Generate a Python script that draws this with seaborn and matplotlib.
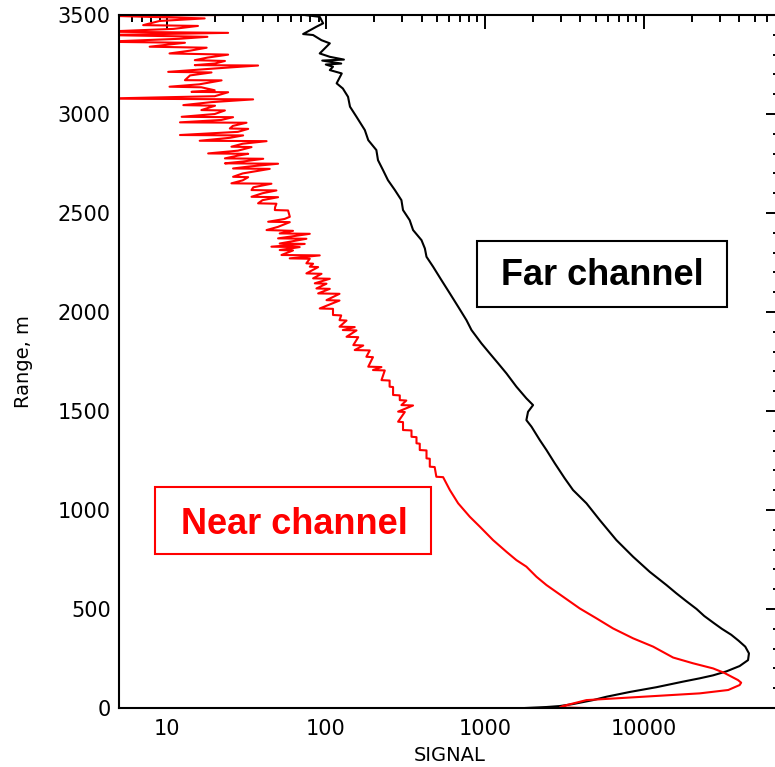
import matplotlib
matplotlib.use('Agg')
import numpy as np
import matplotlib.pyplot as plt
import seaborn as sns
from matplotlib.patches import Rectangle
from matplotlib.ticker import LogLocator, MultipleLocator, NullFormatter

# Far channel profile (range in m, signal)
far_range = [0, 5, 10, 20, 40, 57, 81, 105, 133, 150, 165, 185, 212, 242, 276,
             310, 340, 370, 400, 430, 465, 500, 540, 580, 621, 688, 764, 848,
             949, 1034, 1101, 1160, 1236, 1303, 1353, 1421, 1454, 1496, 1530,
             1564, 1623, 1690, 1741, 1791, 1842, 1909, 1959, 2027, 2094, 2161,
             2229, 2279, 2321, 2363, 2414, 2464, 2515, 2565, 2616, 2666, 2717,
             2767, 2818, 2868, 2919, 2986, 3037, 3087, 3129, 3155, 3205, 3222,
             3239, 3250, 3255, 3270, 3275, 3289, 3306, 3357, 3373, 3399, 3404,
             3441, 3458, 3491, 3500]
far_signal = [1785, 2440, 2965, 3590, 4800, 5830, 8160, 12000, 17600, 22500,
              27300, 33100, 40100, 45300, 45900, 43500, 39500, 35500, 31000,
              27500, 24000, 21500, 18500, 16000, 13900, 10900, 8570, 6730,
              5290, 4360, 3590, 3184, 2757, 2444, 2220, 1967, 1827, 1871, 2013,
              1827, 1581, 1369, 1213, 1075, 952, 825, 767, 680, 603, 534,
              473, 430, 420, 400, 354, 337, 306, 299, 272, 246, 229,
              213, 208, 185, 176, 156, 142, 138, 128, 117, 126, 106,
              111, 100, 125, 95, 130, 106, 91.6, 106, 93.9, 83.2, 72,
              87.3, 96.2, 91.6, 73.8]

# Near channel profile (range in m, signal)
near_range = [3500, 3497, 3483, 3470, 3449, 3445, 3430, 3416, 3410, 3399, 3390,
              3380, 3365, 3360, 3340, 3335, 3320, 3306, 3300, 3285, 3272, 3268,
              3255, 3247, 3245, 3230, 3213, 3210, 3195, 3171, 3170, 3150, 3138,
              3135, 3120, 3112, 3110, 3090, 3078, 3074, 3060, 3045, 3042, 3030,
              3020, 3018, 3000, 2986, 2984, 2970, 2958, 2956, 2940, 2927, 2925,
              2910, 2894, 2892, 2880, 2865, 2863, 2850, 2835, 2833, 2815, 2801,
              2799, 2790, 2776, 2774, 2760, 2751, 2749, 2735, 2725, 2723, 2700,
              2683, 2681, 2665, 2650, 2648, 2630, 2616, 2614, 2600, 2582, 2580,
              2565, 2549, 2547, 2530, 2515, 2513, 2481, 2470, 2456, 2454, 2430,
              2414, 2410, 2397, 2395, 2372, 2370, 2346, 2344, 2330, 2328, 2313,
              2311, 2288, 2286, 2271, 2269, 2246, 2244, 2229, 2227, 2195, 2193,
              2170, 2168, 2145, 2143, 2119, 2117, 2094, 2092, 2060, 2058, 2018,
              2016, 1985, 1983, 1959, 1957, 1926, 1924, 1909, 1907, 1875, 1873,
              1833, 1831, 1808, 1806, 1774, 1772, 1724, 1722, 1707, 1705, 1656,
              1654, 1623, 1621, 1581, 1579, 1555, 1553, 1530, 1528, 1497, 1495,
              1446, 1444, 1404, 1402, 1370, 1368, 1337, 1335, 1303, 1301, 1261,
              1259, 1219, 1217, 1168, 1166, 1101, 1034, 966, 916, 848, 789, 747,
              714, 663, 621, 562, 503, 453, 402, 352, 310, 255, 226, 200, 178,
              141, 128, 116, 91, 74, 54, 40, 10, 3, 0]
near_signal = [21.5, 4, 17.3, 9.0, 7.1, 15.7, 11.0, 4, 24.3, 4, 18.0,
               12.0, 4, 13.0, 7.8, 17.8, 14.0, 10.4, 24.3, 18.0, 15.0, 23.2,
               20.0, 15.0, 37.5, 20.0, 10.2, 19.1, 14.0, 13.0, 22.1, 16.0, 10.4,
               16.5, 20.0, 14.3, 24.3, 20.0, 4, 34.9, 19.0, 12.7, 20.1, 18.0,
               16.5, 23.2, 20.0, 12.4, 26.1, 22.0, 12.1, 31.7, 26.0, 24.9, 32.5,
               28.0, 12.1, 30.2, 25.0, 16.1, 42.4, 30.0, 25.5, 34.1, 28.0, 18.2,
               32.5, 28.0, 23.2, 40.4, 30.0, 23.2, 50.1, 33.0, 26.1, 44.4, 30.0,
               26.1, 32.5, 30.0, 25.5, 45.5, 35.0, 34.1, 48.9, 40.0, 34.1, 50.1,
               40.0, 37.5, 48.9, 48.0, 47.8, 57.9, 59.4, 55.0, 43.4, 59.4, 50.0,
               42.4, 62.2, 51.3, 79.3, 50.1, 75.5, 51.3, 73.7, 45.5, 68.5, 51.3,
               62.2, 52.6, 91.6, 59.3, 79.3, 75.5, 83.2, 79.3, 89.5, 75.5, 94.0,
               83.2, 106, 85.3, 101, 87.3, 106, 89.5, 122, 101, 122, 91.6,
               111, 111, 125, 122, 135, 122, 152, 128, 156, 135, 160,
               149, 172, 152, 189, 180, 198, 185, 224, 198, 235, 224,
               252, 252, 265, 265, 292, 292, 321, 299, 354, 285, 314,
               285, 306, 306, 346, 346, 372, 372, 390, 390, 430, 430,
               451, 451, 484, 496, 547, 603, 680, 805, 931, 1128, 1369, 1581,
               1827, 2114, 2444, 3107, 3956, 5040, 6410, 8570, 11460, 15300, 20400, 27300, 32000,
               39200, 41000, 40100, 34000, 22500, 8570, 4360, 3100, 2965, 4400]

x_ticks = [10, 100, 1000, 10000]
x_labels = ['10', '100', '1000', '10000']
y_ticks = [0, 500, 1000, 1500, 2000, 2500, 3000, 3500]

sns.set_style('white')
plt.rcParams['font.family'] = ['DejaVu Sans']
plt.rcParams['text.color'] = 'black'
plt.rcParams['axes.labelcolor'] = 'black'
plt.rcParams['xtick.color'] = 'black'
plt.rcParams['ytick.color'] = 'black'

fig = plt.figure(figsize=(7.75, 7.67), dpi=100)
ax = fig.add_axes([0.1535, 0.0769, 0.853, 0.9035])

sns.lineplot(x=far_signal, y=far_range, sort=False, estimator=None,
             color='black', lw=1.5, ax=ax)
sns.lineplot(x=near_signal, y=near_range, sort=False, estimator=None,
             color='red', lw=1.5, ax=ax)

ax.set_xscale('log')
ax.set_xlim(5, 72000)
ax.set_ylim(0, 3500)
ax.set_xticks(x_ticks, labels=x_labels)
ax.xaxis.set_minor_locator(LogLocator(base=10, subs=np.arange(2, 10)))
ax.xaxis.set_minor_formatter(NullFormatter())
ax.set_yticks(y_ticks)
ax.yaxis.set_minor_locator(MultipleLocator(100))

ax.tick_params(which='both', direction='in', top=True, right=True,
               width=1.4, color='black', labelcolor='black', labelsize=15)
ax.tick_params(which='major', length=10)
ax.tick_params(which='minor', length=5)
ax.tick_params(axis='x', pad=8)
ax.tick_params(axis='y', pad=6)
for s in ax.spines.values():
    s.set_linewidth(1.5)
    s.set_color('black')

ax.set_xlabel('SIGNAL', fontsize=14, color='black')
ax.set_ylabel('Range, m', fontsize=14, color='black')
ax.xaxis.set_label_coords(0.5, -0.055)
ax.yaxis.set_label_coords(-0.130, 0.5)

# labelled boxes
ax.add_patch(Rectangle((0.5416, 0.5786), 0.3782, 0.0953, transform=ax.transAxes,
                       fill=False, edgecolor='black', lw=1.5))
ax.text(0.7315, 0.6104, 'Far channel', transform=ax.transAxes, ha='center',
        va='baseline', fontsize=26, fontweight='bold', family='Liberation Sans',
        color='black')
ax.add_patch(Rectangle((0.0545, 0.2222), 0.4175, 0.0967, transform=ax.transAxes,
                       fill=False, edgecolor='red', lw=1.5))
ax.text(0.2648, 0.2511, 'Near channel', transform=ax.transAxes, ha='center',
        va='baseline', fontsize=26, fontweight='bold', family='Liberation Sans',
        color='red')

fig.savefig('out.png', dpi=100)
